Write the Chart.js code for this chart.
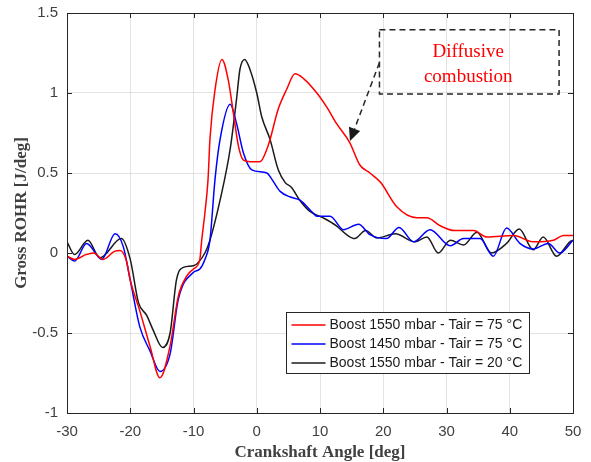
<!DOCTYPE html>
<html>
<head>
<meta charset="utf-8">
<script src="https://cdn.jsdelivr.net/npm/chart.js@4.4.1/dist/chart.umd.min.js"></script>
<style>
  html, body { margin: 0; padding: 0; background: #fff; }
</style>
</head>
<body>
<canvas id="rohrChart" width="591" height="462"></canvas>
<script>
// crank angle [deg] and gross ROHR [J/deg]
const redAngle = [-30, -28.8, -27, -25.8, -24.3, -22.5, -21.6, -20.6, -20, -18.5, -16.9, -15.3, -13.7, -12.4, -11, -10, -9, -8.7, -8.2, -7.7, -7.4, -6.6, -5.5, -4.5, -3.7, -2.9, -2.1, -1, 0.5, 1.8, 3.4, 4.7, 6.05, 7.4, 9.5, 11.1, 12.6, 14.7, 16.3, 17.9, 19.6, 22.1, 25.3, 26.9, 29, 31.3, 34.3, 36.4, 40.6, 43.7, 46.9, 48.5, 50];
const redRohr = [-0.02, -0.04, -0.01, 0.0, -0.04, 0.01, 0.015, -0.05, -0.17, -0.36, -0.58, -0.78, -0.58, -0.27, -0.14, -0.1, -0.04, 0.08, 0.25, 0.46, 0.71, 1.02, 1.21, 1.08, 0.875, 0.67, 0.58, 0.57, 0.57, 0.67, 0.9, 1.02, 1.12, 1.09, 1.0, 0.91, 0.81, 0.69, 0.55, 0.5, 0.44, 0.29, 0.22, 0.22, 0.17, 0.14, 0.14, 0.1, 0.11, 0.07, 0.08, 0.11, 0.11];

const blueAngle = [-30, -28.8, -26.9, -24.5, -22.4, -21.1, -20, -18.5, -16.9, -15.3, -13.7, -12.4, -10, -9, -8.2, -7.4, -6.6, -5.8, -4.2, -3.2, -2.1, -0.8, 1.6, 2.4, 3.7, 5.3, 6.84, 8.9, 9.5, 11.6, 13.7, 16.1, 17.9, 20.5, 22.5, 24.8, 27.4, 30.6, 32.7, 35.3, 37.4, 39.5, 41.6, 43.7, 46.1, 47.9, 50];
const blueRohr = [-0.02, -0.05, 0.06, -0.04, 0.12, 0.04, -0.17, -0.46, -0.61, -0.74, -0.63, -0.29, -0.12, -0.1, -0.04, 0.08, 0.46, 0.71, 0.93, 0.81, 0.625, 0.52, 0.5, 0.46, 0.385, 0.35, 0.33, 0.25, 0.23, 0.23, 0.146, 0.18, 0.115, 0.09, 0.16, 0.07, 0.146, 0.045, 0.09, 0.09, -0.02, 0.156, 0.06, 0.025, 0.06, 0.0, 0.08];

const blackAngle = [-30, -28.8, -26.7, -24.8, -21.4, -20, -18.7, -17.4, -16.4, -14.9, -13.7, -12.7, -11.6, -10, -8.2, -7.4, -5.8, -4.2, -3.2, -2.65, -1.9, -1.1, 0, 0.8, 2.1, 3.4, 4.5, 5.5, 6.8, 8.4, 10.5, 12.6, 14.2, 15.5, 17.2, 19, 21.9, 25, 26.9, 28.7, 30.6, 32.7, 34.8, 37.1, 39.5, 41.5, 43.7, 45.3, 47.4, 49.5, 50];
const blackRohr = [0.07, -0.01, 0.08, -0.03, 0.09, -0.04, -0.31, -0.39, -0.48, -0.59, -0.5, -0.17, -0.09, -0.08, 0.0, 0.08, 0.33, 0.65, 0.96, 1.15, 1.21, 1.15, 1.0, 0.85, 0.71, 0.52, 0.44, 0.41, 0.33, 0.26, 0.22, 0.17, 0.115, 0.09, 0.14, 0.094, 0.12, 0.07, 0.1, 0.0, 0.08, 0.05, 0.13, 0.0, 0.06, 0.15, 0.02, 0.1, -0.02, 0.07, 0.08];

const seriesLabels = [
  "Boost 1550 mbar - Tair = 75 °C",
  "Boost 1450 mbar - Tair = 75 °C",
  "Boost 1550 mbar - Tair = 20 °C",
];
const xTicks = [-30, -20, -10, 0, 10, 20, 30, 40, 50];
const yTicks = [-1, -0.5, 0, 0.5, 1, 1.5];

const axisGray = "#262626";

function toPoints(xs, ys) {
  return xs.map((x, i) => ({ x: x, y: ys[i] }));
}

// inward tick marks on all four sides + box outline (matlab style)
const boxTicks = {
  id: "boxTicks",
  afterDatasetsDraw(chart) {
    const { ctx, chartArea: a, scales } = chart;
    ctx.save();
    ctx.strokeStyle = axisGray;
    ctx.lineWidth = 1;
    ctx.beginPath();
    xTicks.forEach((v) => {
      const px = Math.round(scales.x.getPixelForValue(v)) + 0.5;
      ctx.moveTo(px, a.bottom); ctx.lineTo(px, a.bottom - 5);
      ctx.moveTo(px, a.top); ctx.lineTo(px, a.top + 5);
    });
    yTicks.forEach((v) => {
      const py = Math.round(scales.y.getPixelForValue(v)) + 0.5;
      ctx.moveTo(a.left, py); ctx.lineTo(a.left + 5, py);
      ctx.moveTo(a.right, py); ctx.lineTo(a.right - 5, py);
    });
    ctx.stroke();
    ctx.strokeRect(Math.round(a.left) + 0.5, Math.round(a.top) + 0.5,
      Math.round(a.right - a.left), Math.round(a.bottom - a.top));
    ctx.restore();
  },
};

// "Diffusive combustion" callout, placed in data units
const callout = {
  id: "callout",
  afterDatasetsDraw(chart) {
    const { ctx, scales } = chart;
    const X = (v) => scales.x.getPixelForValue(v);
    const Y = (v) => scales.y.getPixelForValue(v);
    ctx.save();
    ctx.strokeStyle = axisGray;
    ctx.lineWidth = 1.5;
    ctx.setLineDash([6, 4]);
    const l = X(19.4), r = X(47.8), t = Y(1.396), b = Y(0.994);
    ctx.strokeRect(l, t, r - l, b - t);

    // dashed arrow shaft
    const sx = X(19.4), sy = Y(1.19);
    const tx = X(14.74), ty = Y(0.70);
    const ang = Math.atan2(ty - sy, tx - sx);
    const headLen = 13, headW = 6;
    const bx = tx - headLen * Math.cos(ang), by = ty - headLen * Math.sin(ang);
    ctx.beginPath();
    ctx.moveTo(sx, sy);
    ctx.lineTo(bx, by);
    ctx.stroke();
    ctx.setLineDash([]);
    ctx.fillStyle = "#1a1a1a";
    ctx.beginPath();
    ctx.moveTo(tx, ty);
    ctx.lineTo(bx + headW * Math.sin(ang), by - headW * Math.cos(ang));
    ctx.lineTo(bx - headW * Math.sin(ang), by + headW * Math.cos(ang));
    ctx.closePath();
    ctx.fill();

    ctx.fillStyle = "#ff0000";
    ctx.font = '19px "Liberation Serif", "Times New Roman", serif';
    ctx.textAlign = "center";
    ctx.textBaseline = "middle";
    const cx = (l + r) / 2 - 1;
    ctx.fillText("Diffusive", cx, t + 22);
    ctx.fillText("combustion", cx, t + 47);
    ctx.restore();
  },
};

// legend box inside the axes, lower right
const insideLegend = {
  id: "insideLegend",
  afterDraw(chart) {
    const { ctx } = chart;
    const left = 286.5, top = 312.5, w = 243, h = 61;
    ctx.save();
    ctx.fillStyle = "#fff";
    ctx.fillRect(left, top, w, h);
    ctx.strokeStyle = axisGray;
    ctx.lineWidth = 1;
    ctx.strokeRect(left, top, w, h);
    ctx.font = '14px "Liberation Sans", Arial, sans-serif';
    ctx.textBaseline = "middle";
    ctx.textAlign = "left";
    chart.data.datasets.forEach((ds, i) => {
      const y = top + 12.5 + i * 19;
      ctx.strokeStyle = ds.borderColor;
      ctx.lineWidth = 1.5;
      ctx.beginPath();
      ctx.moveTo(left + 5, y);
      ctx.lineTo(left + 39, y);
      ctx.stroke();
      ctx.fillStyle = "#1a1a1a";
      ctx.fillText(ds.label, left + 43, y + 0.5);
    });
    ctx.restore();
  },
};

const ctx = document.getElementById("rohrChart").getContext("2d");
const rohrChart = new Chart(ctx, {
  type: "line",
  data: {
    datasets: [
      {
        label: seriesLabels[0],
        data: toPoints(redAngle, redRohr),
        borderColor: "#ff0000",
      },
      {
        label: seriesLabels[1],
        data: toPoints(blueAngle, blueRohr),
        borderColor: "#0000ff",
      },
      {
        label: seriesLabels[2],
        data: toPoints(blackAngle, blackRohr),
        borderColor: "#1a1a1a",
      },
    ],
  },
  options: {
    responsive: false,
    animation: false,
    parsing: false,
    layout: { padding: { top: 13, right: 18, left: 0, bottom: 0 } },
    elements: {
      point: { radius: 0 },
      line: { borderWidth: 1.5, cubicInterpolationMode: "monotone", fill: false },
    },
    scales: {
      x: {
        type: "linear",
        min: -30,
        max: 50,
        afterBuildTicks: (s) => { s.ticks = xTicks.map((v) => ({ value: v })); },
        afterFit: (s) => { s.height = 49; s.paddingLeft = 0; s.paddingRight = 0; },
        grid: { color: "rgba(38,38,38,0.13)", drawTicks: false },
        border: { display: false },
        ticks: {
          color: "#404040",
          padding: 10,
          font: { family: '"Liberation Sans", Arial, sans-serif', size: 15 },
        },
        title: {
          display: true,
          text: "Crankshaft Angle [deg]",
          color: "#404040",
          padding: { top: 0, bottom: 1 },
          font: { family: '"Liberation Serif", "Times New Roman", serif', size: 17, weight: "bold", lineHeight: 1 },
        },
      },
      y: {
        type: "linear",
        min: -1,
        max: 1.5,
        afterBuildTicks: (s) => { s.ticks = yTicks.map((v) => ({ value: v })); },
        afterFit: (s) => { s.width = 67; s.paddingTop = 0; s.paddingBottom = 0; },
        grid: { color: "rgba(38,38,38,0.13)", drawTicks: false },
        border: { display: false },
        ticks: {
          color: "#404040",
          padding: 9,
          callback: (v) => String(v),
          font: { family: '"Liberation Sans", Arial, sans-serif', size: 15 },
        },
        title: {
          display: true,
          text: "Gross ROHR [J/deg]",
          color: "#404040",
          padding: { top: 13, bottom: 0 },
          font: { family: '"Liberation Serif", "Times New Roman", serif', size: 17, weight: "bold", lineHeight: 1 },
        },
      },
    },
    plugins: {
      legend: { display: false },
      tooltip: { enabled: false },
    },
  },
  plugins: [boxTicks, callout, insideLegend],
});
</script>
</body>
</html>
